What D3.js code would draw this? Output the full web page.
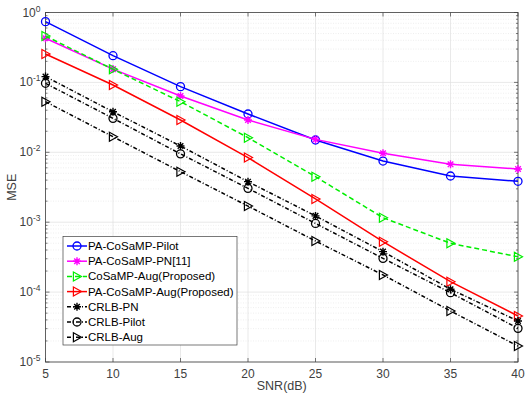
<!DOCTYPE html>
<html>
<head>
<meta charset="utf-8">
<script src="https://cdn.jsdelivr.net/npm/d3@7"></script>
<style>
body { margin: 0; background: #fff; }
svg text { font-family: "Liberation Sans", Arial, sans-serif; }
</style>
</head>
<body>
<div id="chart"></div>
<script>
const snr = [5, 10, 15, 20, 25, 30, 35, 40];
const paPilot = [0.74, 0.241, 0.087, 0.0353, 0.015, 0.0075, 0.00458, 0.00385];
const paPN = [0.428, 0.155, 0.064, 0.029, 0.0153, 0.00967, 0.00673, 0.00577];
const cosampAug = [0.461, 0.154, 0.053, 0.0162, 0.00448, 0.00116, 0.000499, 0.00032];
const paAug = [0.255, 0.0918, 0.029, 0.0084, 0.00215, 0.000526, 0.000141, 0.0000455];
const crlbPN = [0.121, 0.038, 0.0123, 0.0038, 0.00123, 0.000379, 0.00011, 0.0000386];
const crlbPilot = [0.097, 0.0306, 0.0095, 0.00305, 0.00096, 0.000304, 0.000098, 0.0000303];
const crlbAug = [0.053, 0.0167, 0.00528, 0.0017, 0.000538, 0.000176, 0.0000537, 0.0000169];
const xTicks = [5, 10, 15, 20, 25, 30, 35, 40];
const yExps = [0, -1, -2, -3, -4, -5];

const series = [
  {name: 'PA-CoSaMP-Pilot', values: paPilot, color: '#0000ff', marker: 'circle', dash: null},
  {name: 'PA-CoSaMP-PN[11]', values: paPN, color: '#ff00ff', marker: 'star', dash: null},
  {name: 'CoSaMP-Aug(Proposed)', values: cosampAug, color: '#00ee00', marker: 'tri', dash: '5,3'},
  {name: 'PA-CoSaMP-Aug(Proposed)', values: paAug, color: '#ff0000', marker: 'tri', dash: null},
  {name: 'CRLB-PN', values: crlbPN, color: '#000000', marker: 'star', dash: '4,2,1,2'},
  {name: 'CRLB-Pilot', values: crlbPilot, color: '#000000', marker: 'circle', dash: '4,2,1,2'},
  {name: 'CRLB-Aug', values: crlbAug, color: '#000000', marker: 'tri', dash: '4,2,1,2'}
];

const W = 525, H = 396;
const m = {left: 45.5, right: 7, top: 12.5, bottom: 34};
const svg = d3.select('#chart').append('svg').attr('width', W).attr('height', H);
const x = d3.scaleLinear().domain([5, 40]).range([m.left, W - m.right]);
const y = d3.scaleLog().domain([1e-5, 1]).range([H - m.bottom, m.top]);
const x0 = m.left, x1 = W - m.right, y0 = H - m.bottom, y1 = m.top;
const ink = '#404040';

const grid = svg.append('g');
// minor y grid (dotted)
for (let e = -5; e < 0; e++) {
  for (let k = 2; k <= 9; k++) {
    const v = k * Math.pow(10, e);
    grid.append('line').attr('x1', x0).attr('x2', x1).attr('y1', y(v)).attr('y2', y(v))
      .attr('stroke', '#e4e4e4').attr('stroke-width', 0.6).attr('stroke-dasharray', '1,1.5');
  }
}
// major grid
yExps.forEach(e => {
  grid.append('line').attr('x1', x0).attr('x2', x1).attr('y1', y(Math.pow(10, e))).attr('y2', y(Math.pow(10, e)))
    .attr('stroke', '#e0e0e0').attr('stroke-width', 0.7);
});
xTicks.forEach(t => {
  grid.append('line').attr('x1', x(t)).attr('x2', x(t)).attr('y1', y0).attr('y2', y1)
    .attr('stroke', '#e0e0e0').attr('stroke-width', 0.7);
});

// ticks (inside) and box
const ax = svg.append('g').attr('stroke', ink).attr('stroke-width', 0.7);
xTicks.forEach(t => {
  ax.append('line').attr('x1', x(t)).attr('x2', x(t)).attr('y1', y0).attr('y2', y0 - 4);
  ax.append('line').attr('x1', x(t)).attr('x2', x(t)).attr('y1', y1).attr('y2', y1 + 4);
});
for (let e = -5; e <= 0; e++) {
  const v = Math.pow(10, e);
  ax.append('line').attr('x1', x0).attr('x2', x0 + 4).attr('y1', y(v)).attr('y2', y(v));
  ax.append('line').attr('x1', x1).attr('x2', x1 - 4).attr('y1', y(v)).attr('y2', y(v));
  if (e < 0) for (let k = 2; k <= 9; k++) {
    const w = k * v;
    ax.append('line').attr('x1', x0).attr('x2', x0 + 2).attr('y1', y(w)).attr('y2', y(w));
    ax.append('line').attr('x1', x1).attr('x2', x1 - 2).attr('y1', y(w)).attr('y2', y(w));
  }
}
svg.append('rect').attr('x', x0).attr('y', y1).attr('width', x1 - x0).attr('height', y0 - y1)
  .attr('fill', 'none').attr('stroke', ink).attr('stroke-width', 0.8);

// tick labels
xTicks.forEach(t => {
  svg.append('text').attr('x', x(t)).attr('y', y0 + 16).attr('text-anchor', 'middle')
    .attr('font-size', 12).attr('fill', ink).text(t);
});
yExps.forEach(e => {
  const tx = svg.append('text').attr('x', x0 - 5).attr('y', y(Math.pow(10, e)) + 4)
    .attr('text-anchor', 'end').attr('font-size', 12).attr('fill', ink);
  tx.append('tspan').text('10');
  tx.append('tspan').attr('dy', -5).attr('font-size', 8.5).text(e);
});

svg.append('text').attr('x', (x0 + x1) / 2).attr('y', 390).attr('text-anchor', 'middle')
  .attr('font-size', 12.5).attr('fill', ink).text('SNR(dB)');
svg.append('text').attr('transform', `translate(16,${(y0 + y1) / 2}) rotate(-90)`)
  .attr('text-anchor', 'middle').attr('font-size', 12.5).attr('fill', ink).text('MSE');

function drawMarker(g, type, cx, cy, color) {
  if (type === 'circle') {
    g.append('circle').attr('cx', cx).attr('cy', cy).attr('r', 4)
      .attr('fill', 'none').attr('stroke', color).attr('stroke-width', 1.3);
  } else if (type === 'tri') {
    const s = 4.5;
    g.append('path').attr('d', `M${cx - s * 0.8},${cy - s}L${cx + s},${cy}L${cx - s * 0.8},${cy + s}Z`)
      .attr('fill', 'none').attr('stroke', color).attr('stroke-width', 1.2);
  } else {
    const s = 4;
    const d = `M${cx - s},${cy}L${cx + s},${cy}M${cx},${cy - s}L${cx},${cy + s}` +
      `M${cx - s * 0.7},${cy - s * 0.7}L${cx + s * 0.7},${cy + s * 0.7}M${cx - s * 0.7},${cy + s * 0.7}L${cx + s * 0.7},${cy - s * 0.7}`;
    g.append('path').attr('d', d).attr('stroke', color).attr('stroke-width', 1.4);
  }
}

const line = d3.line().x((d, i) => x(snr[i])).y(d => y(d));
const plot = svg.append('g');
series.forEach(s => {
  plot.append('path').datum(s.values).attr('d', line).attr('fill', 'none')
    .attr('stroke', s.color).attr('stroke-width', 1.5)
    .attr('stroke-dasharray', s.dash);
  s.values.forEach((v, i) => drawMarker(plot, s.marker, x(snr[i]), y(v), s.color));
});

// legend
const lg = svg.append('g');
const lx = 63, ly = 236.5, lw = 174, lh = 108.5;
lg.append('rect').attr('x', lx).attr('y', ly).attr('width', lw).attr('height', lh)
  .attr('fill', '#fff').attr('stroke', ink).attr('stroke-width', 0.7);
series.forEach((s, i) => {
  const yy = ly + 9.5 + i * 15.2;
  lg.append('line').attr('x1', lx + 4).attr('x2', lx + 24).attr('y1', yy).attr('y2', yy)
    .attr('stroke', s.color).attr('stroke-width', 1.5).attr('stroke-dasharray', s.dash);
  drawMarker(lg, s.marker, lx + 14, yy, s.color);
  lg.append('text').attr('x', lx + 25).attr('y', yy + 4).attr('font-size', 11.5)
    .attr('fill', '#000').text(s.name);
});
</script>
</body>
</html>
